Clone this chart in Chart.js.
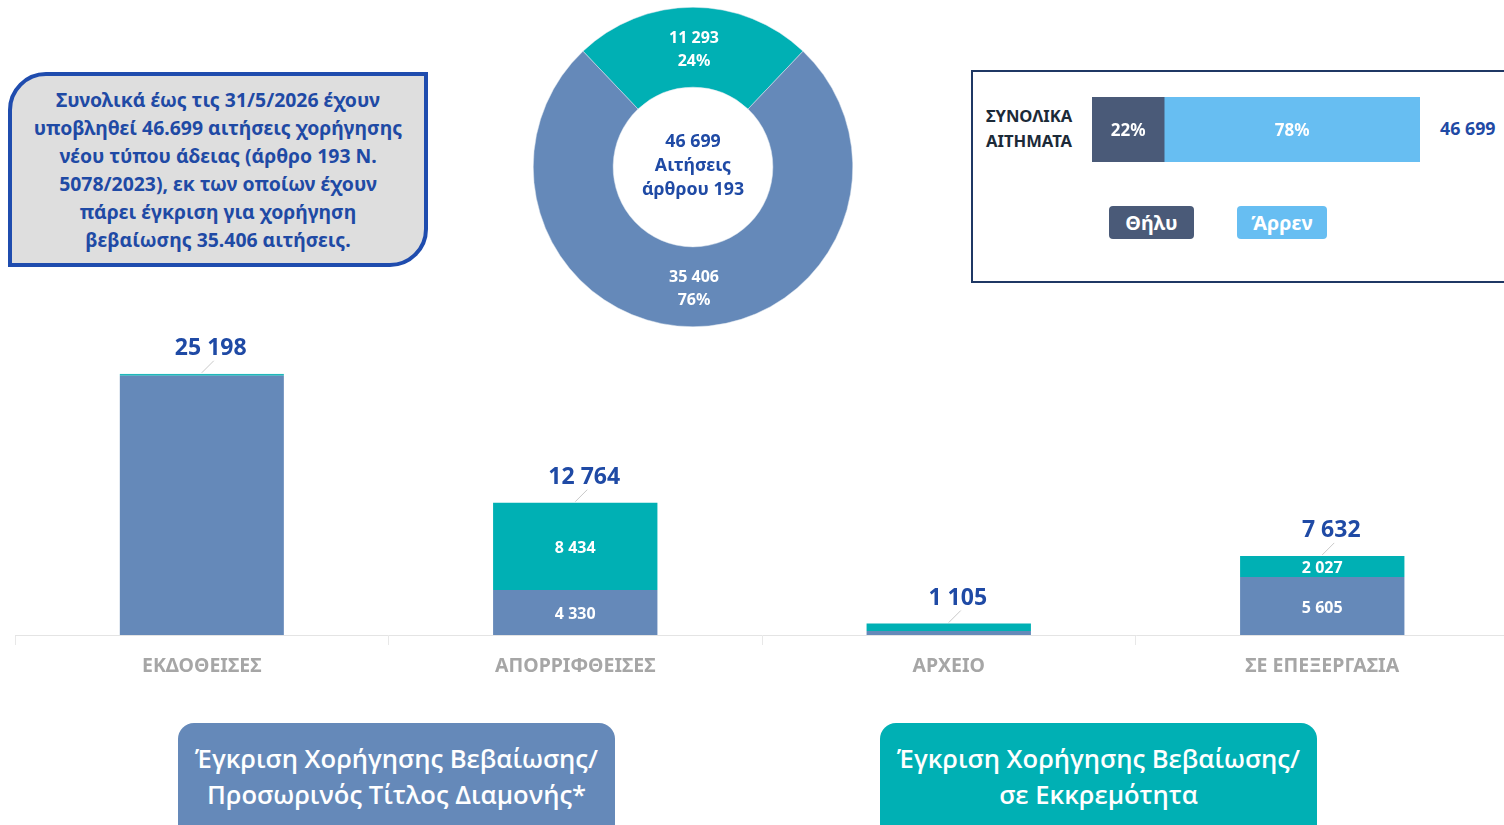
<!DOCTYPE html>
<html lang="el">
<head>
<meta charset="utf-8">
<title>Αιτήσεις άρθρου 193</title>
<script src="https://cdn.jsdelivr.net/npm/chart.js@4.4.1/dist/chart.umd.min.js"></script>
<style>
  html, body { margin: 0; padding: 0; background: #fff; }
  body { width: 1504px; height: 825px; overflow: hidden; position: relative; font-family: "Noto Sans", sans-serif; }
  .abs { position: absolute; }
  #summary {
    left: 8px; top: 72px; width: 412px; height: 187px;
    background: #dedede; border: 4px solid #1f4cae; border-radius: 38px 0 38px 0;
    color: #1f4aa5; font-weight: 700; font-size: 19.4px; line-height: 28px;
    text-align: center; display: flex; align-items: center; justify-content: center;
  }
  #genderBox { left: 971px; top: 70px; width: 560px; height: 209px; border: 2px solid #1f3864; }
  #genderTitle { left: 986px; top: 103px; color: #1c2a38; font-weight: 700; font-size: 16.6px; line-height: 25px; }
  #genderTotal { left: 1440px; top: 116px; color: #1f4aa5; font-weight: 700; font-size: 17.8px; }
  .chip { top: 206px; height: 33px; border-radius: 4px; color: #fff; font-weight: 700; font-size: 19.8px;
          display: flex; align-items: center; justify-content: center; }
  #chipF { left: 1109px; width: 85px; background: #4a5a78; }
  #chipM { left: 1237px; width: 90px; background: #67bef2; }
  .legendBox { top: 723px; width: 437px; height: 120px; border-radius: 16px; color: #fff;
               font-family: "Open Sans", sans-serif; font-weight: 600; font-size: 25.6px; line-height: 36px;
               text-align: center; padding-top: 18px; box-sizing: border-box; }
  #legendGranted { left: 178px; background: #6589b9; }
  #legendPending { left: 880px; background: #00b0b4; }
</style>
</head>
<body>

<div id="summary" class="abs">Συνολικά έως τις 31/5/2026 έχουν<br>υποβληθεί 46.699 αιτήσεις χορήγησης<br>νέου τύπου άδειας (άρθρο 193 Ν.<br>5078/2023), εκ των οποίων έχουν<br>πάρει έγκριση για χορήγηση<br>βεβαίωσης 35.406 αιτήσεις.</div>

<div class="abs" style="left:533px;top:7px;width:320px;height:320px;"><canvas id="donut"></canvas></div>

<div id="genderBox" class="abs"></div>
<div id="genderTitle" class="abs">ΣΥΝΟΛΙΚΑ<br>ΑΙΤΗΜΑΤΑ</div>
<div class="abs" style="left:1092px;top:97px;width:328px;height:65px;"><canvas id="gender"></canvas></div>
<div id="genderTotal" class="abs"></div>
<div id="chipF" class="abs chip"></div>
<div id="chipM" class="abs chip"></div>

<div class="abs" style="left:0;top:300px;width:1520px;height:400px;"><canvas id="bars"></canvas></div>

<div id="legendGranted" class="abs legendBox">Έγκριση Χορήγησης Βεβαίωσης/<br>Προσωρινός Τίτλος Διαμονής*</div>
<div id="legendPending" class="abs legendBox">Έγκριση Χορήγησης Βεβαίωσης/<br>σε Εκκρεμότητα</div>

<script>
// request status per category, split into granted / pending approval
const barCategories = ["ΕΚΔΟΘΕΙΣΕΣ", "ΑΠΟΡΡΙΦΘΕΙΣΕΣ", "ΑΡΧΕΙΟ", "ΣΕ ΕΠΕΞΕΡΓΑΣΙΑ"];
const grantedValues = [25198, 4330, 380, 5605];
const pendingValues = [0, 8434, 725, 2027];

// totals for the doughnut: pending vs granted
const donutLabels = ["Σε εκκρεμότητα", "Έγκριση"];
const donutValues = [11293, 35406];
const donutCenterLines = ["46 699", "Αιτήσεις", "άρθρου 193"];

// gender split of all requests (percent)
const genderLabels = ["Θήλυ", "Άρρεν"];
const genderShares = [22, 78];
const totalRequests = 46699;

const BLUE = "#6589b9";
const TEAL = "#00b0b4";
const TEXT_BLUE = "#1f4aa5";

Chart.defaults.font.family = "'Noto Sans', sans-serif";
Chart.defaults.animation = false;

function fmt(n) {
  return String(n).replace(/\B(?=(\d{3})+(?!\d))/g, " ");
}

document.getElementById("genderTotal").textContent = fmt(totalRequests);
document.getElementById("chipF").textContent = genderLabels[0];
document.getElementById("chipM").textContent = genderLabels[1];

// ---- doughnut ----
const donutSum = donutValues.reduce((a, b) => a + b, 0);

const donutLabelPlugin = {
  id: "donutLabels",
  afterDatasetsDraw(chart) {
    const ctx = chart.ctx;
    const meta = chart.getDatasetMeta(0);
    ctx.save();
    ctx.textAlign = "center";
    ctx.textBaseline = "middle";
    ctx.font = "700 16px 'Noto Sans'";
    ctx.fillStyle = "#fff";
    meta.data.forEach((arc, i) => {
      const p = arc.tooltipPosition();
      const pct = Math.round(donutValues[i] / donutSum * 100) + "%";
      ctx.fillText(fmt(donutValues[i]), p.x + 1, p.y - 9);
      ctx.fillText(pct, p.x + 1, p.y + 14);
    });
    // centre text
    const c = meta.data[0];
    ctx.fillStyle = TEXT_BLUE;
    ctx.font = "700 17.8px 'Noto Sans'";
    donutCenterLines.forEach((line, k) => {
      ctx.fillText(line, c.x, c.y - 25 + k * 24);
    });
    ctx.restore();
  }
};

new Chart("donut", {
  type: "doughnut",
  data: {
    labels: donutLabels,
    datasets: [{
      data: donutValues,
      backgroundColor: [TEAL, BLUE],
      borderColor: "#dfe6ee",
      borderWidth: 0.5
    }]
  },
  options: {
    responsive: true,
    maintainAspectRatio: false,
    cutout: "50%",
    rotation: -(donutValues[0] / donutSum) * 180,
    plugins: { legend: { display: false }, tooltip: { enabled: false } }
  },
  plugins: [donutLabelPlugin]
});

// ---- gender bar ----
const genderLabelPlugin = {
  id: "genderLabels",
  afterDatasetsDraw(chart) {
    const ctx = chart.ctx;
    ctx.save();
    ctx.textAlign = "center";
    ctx.textBaseline = "middle";
    ctx.font = "700 17px 'Noto Sans'";
    ctx.fillStyle = "#fff";
    chart.data.datasets.forEach((ds, i) => {
      const bar = chart.getDatasetMeta(i).data[0];
      ctx.fillText(ds.data[0] + "%", (bar.x + bar.base) / 2, bar.y + 2);
    });
    ctx.restore();
  }
};

new Chart("gender", {
  type: "bar",
  data: {
    labels: ["ΣΥΝΟΛΙΚΑ ΑΙΤΗΜΑΤΑ"],
    datasets: [
      { label: genderLabels[0], data: [genderShares[0]], backgroundColor: "#4a5a78" },
      { label: genderLabels[1], data: [genderShares[1]], backgroundColor: "#67bef2" }
    ]
  },
  options: {
    indexAxis: "y",
    responsive: true,
    maintainAspectRatio: false,
    barPercentage: 1,
    categoryPercentage: 1,
    layout: { padding: 0 },
    scales: {
      x: { stacked: true, display: false, min: 0, max: 100 },
      y: { stacked: true, display: false }
    },
    plugins: { legend: { display: false }, tooltip: { enabled: false } }
  },
  plugins: [genderLabelPlugin]
});

// ---- stacked status bars ----
const barLabelPlugin = {
  id: "barLabels",
  afterDatasetsDraw(chart) {
    const ctx = chart.ctx;
    const m0 = chart.getDatasetMeta(0);
    const m1 = chart.getDatasetMeta(1);
    ctx.save();
    ctx.textAlign = "center";
    ctx.textBaseline = "middle";
    barCategories.forEach((cat, i) => {
      const a = m0.data[i], b = m1.data[i];
      const g = grantedValues[i], p = pendingValues[i];
      // values inside the segments when both parts are present and tall enough
      ctx.font = "700 16px 'Noto Sans'";
      ctx.fillStyle = "#fff";
      if (g > 0 && p > 0) {
        if (Math.abs(a.base - a.y) >= 14) ctx.fillText(fmt(g), a.x, (a.y + a.base) / 2 + 2);
        if (Math.abs(b.base - b.y) >= 14) ctx.fillText(fmt(p), b.x, (b.y + b.base) / 2 + 2);
      }
      // total above the bar with a short leader line
      const top = Math.min(a.y, b.y);
      ctx.strokeStyle = "#c8c8c8";
      ctx.lineWidth = 1;
      ctx.beginPath();
      ctx.moveTo(a.x, top - 1);
      ctx.lineTo(a.x + 12, top - 13);
      ctx.stroke();
      ctx.font = "700 23px 'Noto Sans'";
      ctx.fillStyle = TEXT_BLUE;
      ctx.fillText(fmt(g + p), a.x + 9, top - 25);
    });
    ctx.restore();
  }
};

new Chart("bars", {
  type: "bar",
  data: {
    labels: barCategories,
    datasets: [
      {
        label: "Έγκριση", data: grantedValues, backgroundColor: BLUE,
        // thin pending-colour cap where nothing is stacked on top
        borderColor: "#1fb8bb",
        borderWidth: (c) => pendingValues[c.dataIndex] === 0 ? { top: 2, left: 0, right: 0, bottom: 0 } : 0
      },
      { label: "Σε εκκρεμότητα", data: pendingValues, backgroundColor: TEAL }
    ]
  },
  options: {
    responsive: true,
    maintainAspectRatio: false,
    barPercentage: 0.44,
    categoryPercentage: 1,
    layout: { padding: { left: 15, right: 11, top: 24, bottom: 0 } },
    scales: {
      x: {
        stacked: true,
        afterFit(scale) { scale.height = 65; },
        grid: { display: true, drawOnChartArea: false, drawTicks: true, tickLength: 10, color: "#e8e8e8", offset: true },
        border: { display: true, color: "#e4e4e4" },
        ticks: { color: "#a6a6a6", font: { size: 19.5, weight: "700" }, padding: 10 }
      },
      y: { stacked: true, display: false, min: 0, max: 30000 }
    },
    plugins: { legend: { display: false }, tooltip: { enabled: false } }
  },
  plugins: [barLabelPlugin]
});
</script>
</body>
</html>
